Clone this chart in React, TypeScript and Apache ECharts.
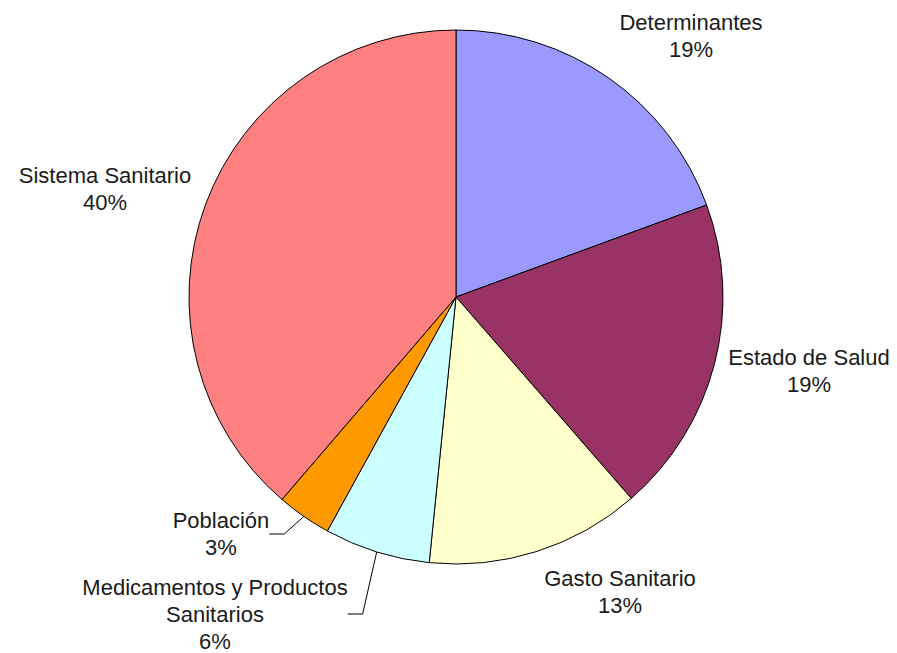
import React, { useEffect, useRef } from "react";
import * as echarts from "echarts";

const categories = [
  "Determinantes",
  "Estado de Salud",
  "Gasto Sanitario",
  "Medicamentos y Productos Sanitarios",
  "Población",
  "Sistema Sanitario",
];
const labelNames = [
  "Determinantes",
  "Estado de Salud",
  "Gasto Sanitario",
  "Medicamentos y Productos\nSanitarios",
  "Población",
  "Sistema Sanitario",
];
const values = [19.4, 19.2, 13.0, 6.4, 3.3, 38.7];
const percentLabels = ["19%", "19%", "13%", "6%", "3%", "40%"];
const colors = ["#9999FF", "#993366", "#FFFFCC", "#CCFFFF", "#FF9900", "#FF8080"];
const showLeader = [false, false, false, true, true, false];

// label centre positions (layout only)
const labelPos: [number, number][] = [
  [691, 36],
  [809, 371],
  [620, 592],
  [215, 614],
  [221, 534],
  [105, 189],
];

export default function App() {
  const ref = useRef<HTMLDivElement>(null);
  useEffect(() => {
    if (!ref.current) return;
    const chart = echarts.init(ref.current, null, { renderer: "svg" });
    chart.setOption({
      animation: false,
      backgroundColor: "#ffffff",
      series: [
        {
          type: "pie",
          center: [456, 297],
          radius: 267,
          startAngle: 90,
          clockwise: true,
          avoidLabelOverlap: false,
          itemStyle: { borderColor: "#000000", borderWidth: 1 },
          label: {
            show: true,
            position: "outside",
            color: "#1a1a1a",
            fontFamily: "Liberation Sans, Arial, sans-serif",
            fontSize: 22,
            lineHeight: 27,
            align: "center",
            formatter: (p: any) => `${labelNames[p.dataIndex]}\n${percentLabels[p.dataIndex]}`,
          },
          labelLine: {
            show: true,
            length: 10,
            length2: 15,
            lineStyle: { color: "#000000", width: 1 },
          },
          labelLayout: (p: any) => ({
            x: labelPos[p.dataIndex][0],
            y: labelPos[p.dataIndex][1],
            align: "center",
            verticalAlign: "middle",
          }),
          data: categories.map((name, i) => ({
            name,
            value: values[i],
            itemStyle: { color: colors[i] },
            labelLine: { show: showLeader[i] },
          })),
        },
      ],
    });
    return () => chart.dispose();
  }, []);
  return (
    <div
      ref={ref}
      style={{ position: "absolute", left: 0, top: 0, width: 897, height: 653 }}
    />
  );
}
